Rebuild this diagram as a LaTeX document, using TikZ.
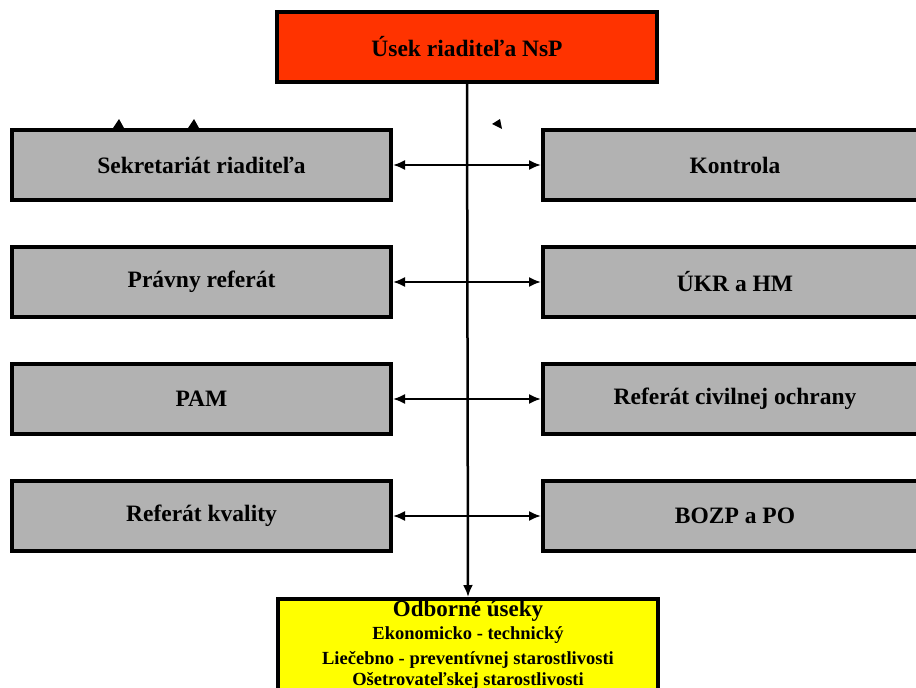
\documentclass[tikz,border=0pt]{standalone}
\usepackage{fontspec}
\setmainfont{Liberation Serif}
\usetikzlibrary{arrows.meta}
\definecolor{redbox}{RGB}{255,51,0}
\definecolor{greybox}{RGB}{178,178,178}
\definecolor{yellowbox}{RGB}{255,255,0}
\tikzset{
  box/.style = {draw, line width = 4pt, minimum height = 70pt, font = \bfseries\fontsize{23.5}{26}\selectfont},
  lbox/.style = {box, fill = greybox, minimum width = 379pt},
  rbox/.style = {box, fill = greybox, minimum width = 384pt},
  small/.style = {font = \bfseries\fontsize{18.5}{20}\selectfont, inner sep = 0pt},
  link/.style = {line width = 2pt, {Latex[length=12pt,width=10pt]}-{Latex[length=12pt,width=10pt]}}
}
\begin{document}
\begin{tikzpicture}[x = 1pt, y = -1pt]
            \useasboundingbox (0, 0) rectangle (916, 688);
            \node [box, fill = redbox, minimum width = 380pt] (head) at (467, 47) {Úsek riaditeľa NsP};
            \node [lbox] (sekr) at (201.5, 165) {Sekretariát riaditeľa};
            \node [lbox] (prav) at (201.5, 282) {Právny referát};
            \node [lbox] (pam) at (201.5, 399) {PAM};
            \node [lbox] (kval) at (201.5, 516) {Referát kvality};
            \node [rbox] (kontr) at (735, 165) {Kontrola};
            \node [rbox] (ukr) at (735, 282) {ÚKR a HM};
            \node [rbox] (civil) at (735, 399) {Referát civilnej ochrany};
            \node [rbox] (bozp) at (735, 516) {BOZP a PO};
            \node [draw, line width = 4pt, fill = yellowbox, minimum width = 380pt, minimum height = 110pt,
                   anchor = north] (odb) at (468, 597) {};
            \node [small, font = \bfseries\fontsize{23}{26}\selectfont] (odbt) at (468, 611) {Odborné úseky};
            \node [small] (ekon) at (468, 635) {Ekonomicko - technický};
            \node [small] (liec) at (468, 660) {Liečebno - preventívnej starostlivosti};
            \node [small] (oset) at (468, 681) {Ošetrovateľskej starostlivosti};
            \draw [line width = 2.5pt, -{Latex[length=12pt,width=10pt]}] (head.south) -- (odb.north);
            \draw [link] (sekr.east) -- (kontr.west);
            \draw [link] (prav.east) -- (ukr.west);
            \draw [link] (pam.east) -- (civil.west);
            \draw [link] (kval.east) -- (bozp.west);
            % stray arrow tips
            \fill (113, 128) -- (119, 119) -- (124, 128) -- cycle;
            \fill (188, 128) -- (194, 119) -- (199, 128) -- cycle;
            \fill (492, 124) -- (500, 119) -- (502, 129) -- cycle;
        \end{tikzpicture}
\end{document}
